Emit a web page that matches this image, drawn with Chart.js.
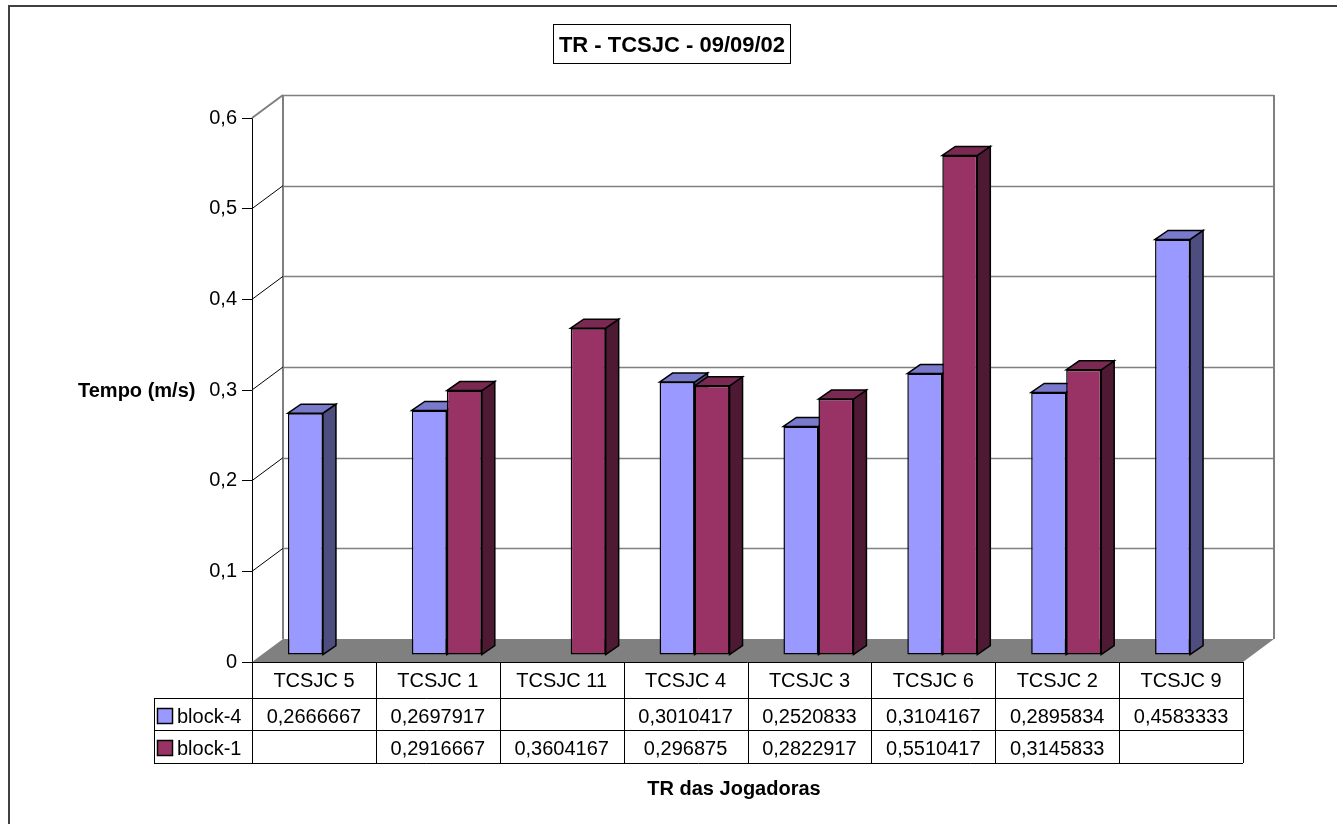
<!DOCTYPE html>
<html>
<head>
<meta charset="utf-8">
<script src="https://cdn.jsdelivr.net/npm/chart.js@4.4.1/dist/chart.umd.min.js"></script>
<style>
  html, body { margin: 0; padding: 0; background: #fff; }
  #wrap { width: 1337px; height: 824px; position: relative; }
</style>
</head>
<body>
<div id="wrap"><canvas id="c"></canvas></div>
<script>
// ---- data ----
const categories = ['TCSJC 5', 'TCSJC 1', 'TCSJC 11', 'TCSJC 4', 'TCSJC 3', 'TCSJC 6', 'TCSJC 2', 'TCSJC 9'];
const block4 = [0.2666667, 0.2697917, null, 0.3010417, 0.2520833, 0.3104167, 0.2895834, 0.4583333];
const block1 = [null, 0.2916667, 0.3604167, 0.296875, 0.2822917, 0.5510417, 0.3145833, null];
const seriesNames = ['block-4', 'block-1'];
const yTicks = [0, 0.1, 0.2, 0.3, 0.4, 0.5, 0.6];
const chartTitle = 'TR - TCSJC - 09/09/02';
const yTitle = 'Tempo (m/s)';
const xTitle = 'TR das Jogadoras';

// ---- styling ----
const FONT = "'Liberation Sans', Arial, sans-serif";
const frontColors = ['#9999FF', '#993366'];
const sideColors = ['#4D4D80', '#4D1933'];
const topColors = ['#7A7ACC', '#7A2952'];
const WALL_DX = 31, WALL_DY = -23;   // depth of the floor / back wall
const BAR_X = 9, BAR_Y = -7;          // bar front plane offset
const BAR_DX = 13, BAR_DY = -9;       // bar depth
const ROW_LINES = [662, 698, 730, 763];
const TABLE_LEFT = 154;

const fmtDec = v => String(v).replace('.', ',');

function poly(ctx, pts, fill, stroke, lw) {
  ctx.beginPath();
  ctx.moveTo(pts[0][0], pts[0][1]);
  for (let i = 1; i < pts.length; i++) ctx.lineTo(pts[i][0], pts[i][1]);
  ctx.closePath();
  if (fill) { ctx.fillStyle = fill; ctx.fill(); }
  if (stroke) { ctx.strokeStyle = stroke; ctx.lineWidth = lw; ctx.stroke(); }
}
function line(ctx, x1, y1, x2, y2) {
  ctx.beginPath(); ctx.moveTo(x1, y1); ctx.lineTo(x2, y2); ctx.stroke();
}

const scene3d = {
  id: 'scene3d',
  beforeDraw(chart) {
    const ctx = chart.ctx;
    ctx.save();
    ctx.fillStyle = '#fff';
    ctx.fillRect(0, 0, chart.width, chart.height);
    ctx.strokeStyle = '#404040';
    ctx.lineWidth = 2;
    ctx.strokeRect(9, 6, chart.width + 20, chart.height + 20);
    ctx.restore();
  },
  beforeDatasetsDraw(chart) {
    const { ctx, chartArea: a } = chart;
    const y = chart.scales.y;
    ctx.save();
    // back wall
    ctx.fillStyle = '#fff';
    ctx.fillRect(a.left + WALL_DX, a.top + WALL_DY, a.right - a.left, a.bottom - a.top);
    // floor
    poly(ctx, [[a.left, a.bottom], [a.left + WALL_DX, a.bottom + WALL_DY],
               [a.right + WALL_DX, a.bottom + WALL_DY], [a.right, a.bottom]], '#808080', null, 0);
    // gridlines on the back wall
    ctx.strokeStyle = '#808080';
    ctx.lineWidth = 1.5;
    yTicks.forEach(v => {
      if (v === 0) return;
      const py = Math.round(y.getPixelForValue(v) + WALL_DY) + 0.5;
      line(ctx, a.left + WALL_DX, py, a.right + WALL_DX, py);
    });
    // wall edges
    ctx.lineWidth = 2;
    line(ctx, a.left + WALL_DX, a.top + WALL_DY, a.left + WALL_DX, a.bottom + WALL_DY);
    line(ctx, a.right + WALL_DX, a.top + WALL_DY, a.right + WALL_DX, a.bottom + WALL_DY);
    line(ctx, a.left, a.top, a.left + WALL_DX, a.top + WALL_DY);
    // diagonals on the side wall
    ctx.strokeStyle = '#000';
    ctx.lineWidth = 1;
    yTicks.forEach(v => {
      if (v === 0 || v === y.max) return;
      const py = y.getPixelForValue(v);
      line(ctx, a.left, py, a.left + WALL_DX, py + WALL_DY);
    });
    ctx.restore();

    // side and top faces of every bar, then the fronts are drawn by Chart.js
    ctx.save();
    ctx.translate(BAR_X, BAR_Y);
    ctx.lineJoin = 'miter';
    for (let i = 0; i < categories.length; i++) {
      chart.data.datasets.forEach((ds, d) => {
        if (ds.data[i] == null) return;
        const el = chart.getDatasetMeta(d).data[i];
        const p = el.getProps(['x', 'y', 'base', 'width'], true);
        const l = p.x - p.width / 2, r = p.x + p.width / 2;
        poly(ctx, [[r, p.y], [r + BAR_DX, p.y + BAR_DY], [r + BAR_DX, p.base + BAR_DY], [r, p.base]],
             sideColors[d], '#000', 1.5);
        poly(ctx, [[l, p.y], [l + BAR_DX, p.y + BAR_DY], [r + BAR_DX, p.y + BAR_DY], [r, p.y]],
             topColors[d], '#000', 1.5);
      });
    }
    // keep the translation for the bar fronts
  },
  afterDatasetsDraw(chart) {
    const { ctx, chartArea: a } = chart;
    const x = chart.scales.x;
    ctx.restore();
    ctx.save();

    // data table
    const colW = (a.right - a.left) / categories.length;
    ctx.strokeStyle = '#000';
    ctx.lineWidth = 1;
    const hy = v => Math.round(v) + 0.5;
    line(ctx, a.left, hy(ROW_LINES[0]), a.right, hy(ROW_LINES[0]));
    for (let r = 1; r < ROW_LINES.length; r++) line(ctx, TABLE_LEFT, hy(ROW_LINES[r]), a.right, hy(ROW_LINES[r]));
    for (let i = 0; i <= categories.length; i++) {
      const px = hy(a.left + i * colW);
      line(ctx, px, ROW_LINES[0], px, ROW_LINES[3]);
    }
    line(ctx, hy(TABLE_LEFT), ROW_LINES[1], hy(TABLE_LEFT), ROW_LINES[3]);

    ctx.fillStyle = '#000';
    ctx.font = '20px ' + FONT;
    ctx.textAlign = 'center';
    ctx.textBaseline = 'alphabetic';
    const series = [block4, block1];
    categories.forEach((c, i) => {
      const cx = x.getPixelForValue(i);
      ctx.fillText(c, cx, ROW_LINES[0] + 25);
      series.forEach((s, d) => {
        if (s[i] != null) ctx.fillText(fmtDec(s[i]), cx, ROW_LINES[d + 1] + 25);
      });
    });
    // legend keys inside the table
    ctx.textAlign = 'left';
    seriesNames.forEach((n, d) => {
      const top = ROW_LINES[d + 1];
      ctx.fillStyle = frontColors[d];
      ctx.fillRect(157.5, top + 10.5, 15, 15);
      ctx.strokeStyle = '#000';
      ctx.lineWidth = 1.5;
      ctx.strokeRect(157.5, top + 10.5, 15, 15);
      ctx.fillStyle = '#000';
      ctx.fillText(n, 177, top + 25);
    });

    // axis titles
    ctx.font = 'bold 20px ' + FONT;
    ctx.textAlign = 'left';
    ctx.fillText(yTitle, 78, (a.top + a.bottom) / 2 + 7);
    ctx.textAlign = 'center';
    ctx.fillText(xTitle, 734, 795);

    // chart title in a box
    ctx.fillStyle = '#fff';
    ctx.fillRect(553.5, 24.5, 237, 39);
    ctx.strokeStyle = '#000';
    ctx.lineWidth = 1;
    ctx.strokeRect(553.5, 24.5, 237, 39);
    ctx.fillStyle = '#000';
    ctx.font = 'bold 22px ' + FONT;
    ctx.fillText(chartTitle, 672, 52);
    ctx.restore();
  }
};

new Chart(document.getElementById('c'), {
  type: 'bar',
  data: {
    labels: categories,
    datasets: [
      { label: seriesNames[0], data: block4, backgroundColor: frontColors[0] },
      { label: seriesNames[1], data: block1, backgroundColor: frontColors[1] }
    ]
  },
  options: {
    responsive: true,
    maintainAspectRatio: false,
    devicePixelRatio: 1,
    animation: false,
    layout: { padding: { left: 0, right: 94, top: 118, bottom: 162 } },
    datasets: {
      bar: {
        categoryPercentage: 0.565,
        barPercentage: 1,
        borderColor: '#000',
        borderWidth: 1.5,
        borderSkipped: false
      }
    },
    plugins: {
      legend: { display: false },
      title: { display: false },
      tooltip: { enabled: false }
    },
    scales: {
      x: { display: false, offset: true },
      y: {
        min: 0,
        max: 0.6,
        afterFit(s) { s.width = 252; },
        ticks: {
          stepSize: 0.1,
          padding: 5,
          color: '#000',
          font: { family: FONT, size: 20 },
          callback: v => (v === 0 ? '0' : v.toFixed(1).replace('.', ','))
        },
        grid: { drawOnChartArea: false, drawTicks: true, tickLength: 10, color: '#000', lineWidth: 1 },
        border: { display: true, color: '#000', width: 1 }
      }
    }
  },
  plugins: [scene3d]
});
</script>
</body>
</html>
